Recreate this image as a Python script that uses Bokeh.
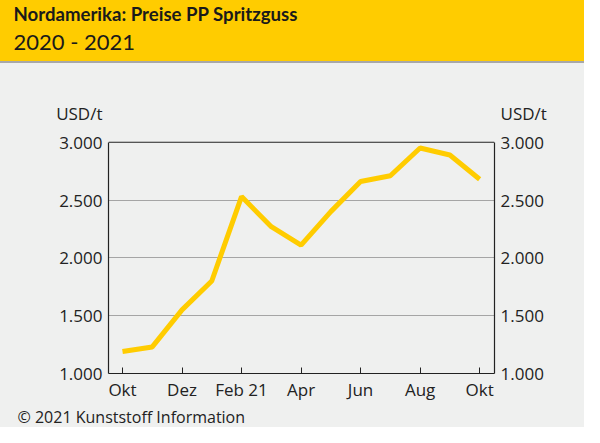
from bokeh.plotting import figure
from bokeh.models import Range1d, LinearAxis, FixedTicker, Title, Div, Span
from bokeh.layouts import column
from bokeh.embed import file_html
from bokeh.resources import INLINE

# ---- data ----
title = "Nordamerika: Preise PP Spritzguss"
subtitle = "2020 - 2021"
unit = "USD/t"
footer = "\u00a9 2021 Kunststoff Information"
months = ["Okt", "Nov", "Dez", "Jan", "Feb 21", "Mär", "Apr", "Mai", "Jun", "Jul", "Aug", "Sep", "Okt"]
prices = [1190, 1230, 1550, 1800, 2530, 2270, 2110, 2400, 2660, 2710, 2950, 2890, 2680]
y_ticks = [1000, 1500, 2000, 2500, 3000]
y_tick_labels = ["1.000", "1.500", "2.000", "2.500", "3.000"]
grid_ticks = [1500, 2000, 2500]
x_tick_pos = [0, 2, 4, 6, 8, 10, 12]

FONT = "Open Sans"
TFONT = "Lato"
YELLOW = "#FFCC00"
BG = "#EFF0EF"
DARK = "#222222"
W = 584
HDR_H = 61
LINE_H = 2
MAIN_H = 427 - HDR_H - LINE_H
TOP0 = HDR_H + LINE_H                 # page y where main figure starts
FL, FR, FB = 108, 494, 374            # frame edges (page px)
Y0, Y1 = 1000, 3000
Y1_PX = 142                           # page y of 3000
per_px = (Y1 - Y0) / (FB - Y1_PX)
y_top = Y1 + (Y1_PX - TOP0) * per_px  # range end at top of main figure
unit_val = Y1 + (Y1_PX - 113) * per_px

# ---- header ----
hdr = figure(width=W, height=HDR_H, x_range=Range1d(0, 1), y_range=Range1d(0, 1),
             toolbar_location=None, output_backend="svg",
             min_border_left=FL, min_border_right=W - FR, min_border_top=0, min_border_bottom=0,
             x_axis_location=None, y_axis_location=None)
hdr.grid.visible = False
hdr.outline_line_color = None
hdr.background_fill_color = YELLOW
hdr.border_fill_color = YELLOW
hdr.add_layout(Title(text=subtitle, align="left", offset=13 - FL, text_font=TFONT,
                     text_font_size="22px", text_font_style="normal", text_color="#1a1a1a",
                     standoff=0), "above")
hdr.add_layout(Title(text=title, align="left", offset=13 - FL, text_font=TFONT,
                     text_font_size="18.6px", text_font_style="bold", text_color="#1a1a1a",
                     standoff=1), "above")

sep = Div(text="", width=W, height=LINE_H, margin=0,
          styles={"background-color": "#A8A8A8"})

# ---- main chart ----
xs = list(range(len(months)))
p = figure(width=W, height=MAIN_H, x_range=Range1d(-0.47, 12.5), y_range=Range1d(Y0, y_top),
           toolbar_location=None, output_backend="svg",
           min_border_left=FL, min_border_right=W - FR, min_border_top=0,
           min_border_bottom=MAIN_H - (FB - TOP0))
p.background_fill_color = BG
p.border_fill_color = BG
p.outline_line_color = None
p.xgrid.visible = False
p.ygrid.ticker = FixedTicker(ticks=grid_ticks)
p.ygrid.grid_line_color = "#A5A5A5"
p.ygrid.grid_line_width = 1
p.add_layout(Span(location=Y1, dimension="width", line_color=DARK, line_width=1.2))

p.line(xs, prices, line_color=YELLOW, line_width=5)

p.xaxis.ticker = FixedTicker(ticks=x_tick_pos)
p.xaxis.major_label_overrides = {i: months[i] for i in x_tick_pos}
p.xaxis.major_tick_in = 6
p.xaxis.major_tick_out = 0
p.xaxis.minor_tick_line_color = None
p.xaxis.axis_line_color = DARK
p.xaxis.axis_line_width = 1.2
p.xaxis.major_tick_line_color = DARK
p.xaxis.major_label_standoff = 4
p.xaxis.major_label_text_font = FONT
p.xaxis.major_label_text_font_size = "17px"
p.xaxis.major_label_text_color = "#222222"

# left/right: line-only axes (bounded to the value range) + label axes
line_l = p.yaxis[0]
line_r = LinearAxis()
p.add_layout(line_r, "right")
for ax in (line_l, line_r):
    ax.ticker = FixedTicker(ticks=[])
    ax.bounds = (Y0, Y1)
    ax.major_tick_in = 0
    ax.major_tick_out = 0
    ax.minor_tick_line_color = None
    ax.major_label_standoff = 0
    ax.axis_line_color = DARK
    ax.axis_line_width = 1.2

lab_l = LinearAxis()
lab_r = LinearAxis()
p.add_layout(lab_l, "left")
p.add_layout(lab_r, "right")
labels = dict(zip(y_ticks, y_tick_labels))
labels[unit_val] = unit
for ax in (lab_l, lab_r):
    ax.ticker = FixedTicker(ticks=y_ticks + [unit_val])
    ax.major_label_overrides = labels
    ax.major_tick_in = 0
    ax.major_tick_out = 0
    ax.minor_tick_line_color = None
    ax.axis_line_color = None
    ax.major_label_standoff = 6
    ax.major_label_text_font = FONT
    ax.major_label_text_font_size = "17px"
    ax.major_label_text_color = "#222222"

p.add_layout(Title(text=footer, align="left", offset=17 - FL, text_font=FONT,
                   text_font_size="16px", text_font_style="normal", text_color="#222222",
                   standoff=0), "below")

layout = column(column(hdr, styles={"background-color": YELLOW}),
                sep,
                column(p, styles={"background-color": BG}),
                spacing=0)
open("out.html", "w").write(file_html(layout, INLINE))
